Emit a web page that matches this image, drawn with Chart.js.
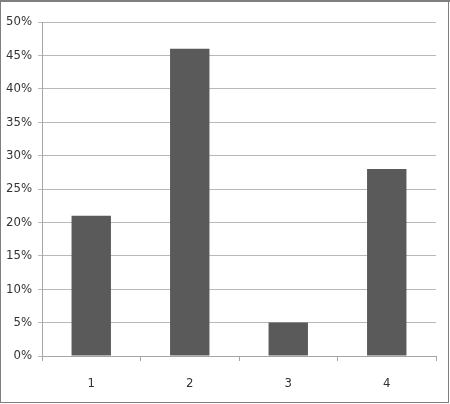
<!DOCTYPE html>
<html><head><meta charset="utf-8">
<script src="https://cdn.jsdelivr.net/npm/chart.js@4/dist/chart.umd.min.js"></script>
<style>html,body{margin:0;padding:0;background:#fff}#c{display:block}</style>
</head><body>
<canvas id="c" width="450" height="404"></canvas>
<script>
const categories = ["1", "2", "3", "4"];
const values = [21, 46, 5, 28];
const yTicks = [0, 5, 10, 15, 20, 25, 30, 35, 40, 45, 50];

const frame = {
  id: 'frame',
  afterDraw(chart) {
    const ctx = chart.ctx;
    ctx.save();
    ctx.strokeStyle = '#7f7f7f';
    ctx.lineWidth = 1;
    ctx.strokeRect(0.5, 0.5, 448, 402);
    ctx.fillStyle = '#7f7f7f';
    ctx.fillRect(0, 0, 450, 2);
    ctx.restore();
  }
};

const fontFam = '"Liberation Sans Narrow", "DejaVu Sans Condensed", "Liberation Sans", sans-serif';

new Chart(document.getElementById('c'), {
  type: 'bar',
  data: {
    labels: categories,
    datasets: [{
      data: values,
      backgroundColor: '#5a5a5a',
      borderWidth: 0,
      categoryPercentage: 1.0,
      barPercentage: 0.4
    }]
  },
  options: {
    responsive: false,
    animation: false,
    layout: { padding: { left: 0, right: 14, top: 22, bottom: 0 } },
    plugins: { legend: { display: false }, tooltip: { enabled: false } },
    scales: {
      x: {
        offset: true,
        grid: { drawOnChartArea: false, offset: true, tickLength: 5, color: '#a6a6a6' },
        border: { color: '#a6a6a6' },
        ticks: { color: '#333', font: { family: fontFam, size: 13 }, padding: 15 },
        afterFit(s) { s.height = 48; }
      },
      y: {
        min: 0, max: 50,
        afterBuildTicks(s) { s.ticks = yTicks.map(v => ({ value: v })); },
        grid: { color: '#b8b8b8', tickLength: 4 },
        border: { color: '#a6a6a6' },
        ticks: { color: '#333', font: { family: fontFam, size: 13 }, padding: 6, callback: v => v + '%' },
        afterFit(s) { s.width = 42; }
      }
    }
  },
  plugins: [frame]
});
</script>
</body></html>
